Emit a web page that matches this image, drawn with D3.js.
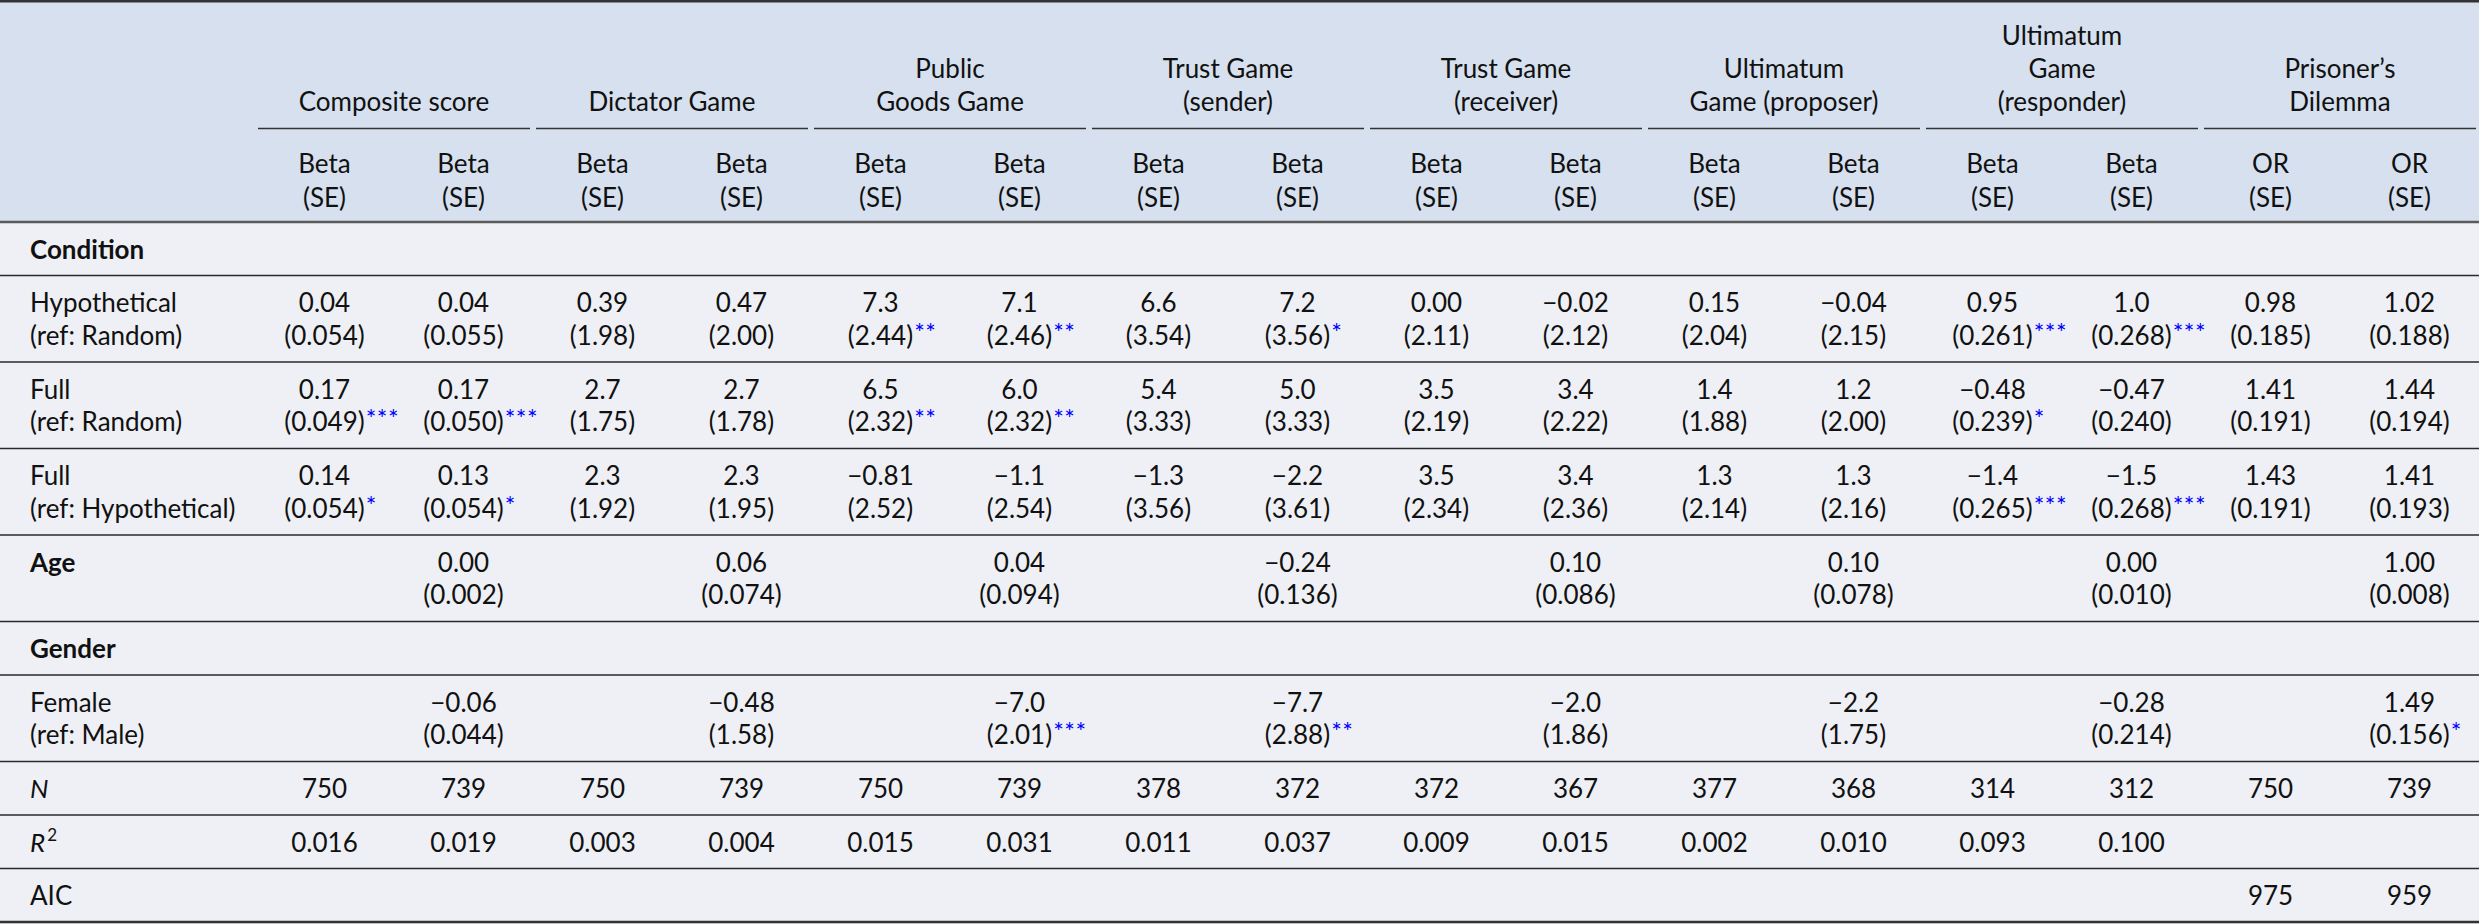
<!DOCTYPE html>
<html>
<head>
<meta charset="utf-8">
<script src="https://cdn.jsdelivr.net/npm/d3@7"></script>
<style>
  html, body { margin: 0; padding: 0; background: #eef0f5; }
  svg { display: block; font-family: Lato, "Noto Sans", sans-serif; }
</style>
</head>
<body>
<svg id="chart" width="2479" height="924"></svg>
<script>
// ---------------- DATA ----------------
const groups = [
  ["Composite score"],
  ["Dictator Game"],
  ["Public", "Goods Game"],
  ["Trust Game", "(sender)"],
  ["Trust Game", "(receiver)"],
  ["Ultimatum", "Game (proposer)"],
  ["Ultimatum", "Game", "(responder)"],
  ["Prisoner\u2019s", "Dilemma"]
];
const statLabels = ["Beta","Beta","Beta","Beta","Beta","Beta","Beta","Beta","Beta","Beta","Beta","Beta","Beta","Beta","OR","OR"];
const seLabel = "(SE)";

const hypCoef = ["0.04","0.04","0.39","0.47","7.3","7.1","6.6","7.2","0.00","\u22120.02","0.15","\u22120.04","0.95","1.0","0.98","1.02"];
const hypSE   = ["0.054","0.055","1.98","2.00","2.44","2.46","3.54","3.56","2.11","2.12","2.04","2.15","0.261","0.268","0.185","0.188"];
const hypSig  = ["","","","","**","**","","*","","","","","***","***","",""];

const fullCoef = ["0.17","0.17","2.7","2.7","6.5","6.0","5.4","5.0","3.5","3.4","1.4","1.2","\u22120.48","\u22120.47","1.41","1.44"];
const fullSE   = ["0.049","0.050","1.75","1.78","2.32","2.32","3.33","3.33","2.19","2.22","1.88","2.00","0.239","0.240","0.191","0.194"];
const fullSig  = ["***","***","","","**","**","","","","","","","*","","",""];

const fullHCoef = ["0.14","0.13","2.3","2.3","\u22120.81","\u22121.1","\u22121.3","\u22122.2","3.5","3.4","1.3","1.3","\u22121.4","\u22121.5","1.43","1.41"];
const fullHSE   = ["0.054","0.054","1.92","1.95","2.52","2.54","3.56","3.61","2.34","2.36","2.14","2.16","0.265","0.268","0.191","0.193"];
const fullHSig  = ["*","*","","","","","","","","","","","***","***","",""];

const ageCoef = ["","0.00","","0.06","","0.04","","\u22120.24","","0.10","","0.10","","0.00","","1.00"];
const ageSE   = ["","0.002","","0.074","","0.094","","0.136","","0.086","","0.078","","0.010","","0.008"];
const ageSig  = ["","","","","","","","","","","","","","","",""];

const femCoef = ["","\u22120.06","","\u22120.48","","\u22127.0","","\u22127.7","","\u22122.0","","\u22122.2","","\u22120.28","","1.49"];
const femSE   = ["","0.044","","1.58","","2.01","","2.88","","1.86","","1.75","","0.214","","0.156"];
const femSig  = ["","","","","","***","","**","","","","","","","","*"];

const nValues  = ["750","739","750","739","750","739","378","372","372","367","377","368","314","312","750","739"];
const r2Values = ["0.016","0.019","0.003","0.004","0.015","0.031","0.011","0.037","0.009","0.015","0.002","0.010","0.093","0.100","",""];
const aicValues = ["","","","","","","","","","","","","","","975","959"];

// ---------------- LAYOUT ----------------
const W = 2479, H = 924;
const labelW = 255;
const headerH = 222;
const singleH = 53.5, doubleH = 86.5;
const fs = 26;
const ink = "#111";
const starColor = "#0000ff";

const svg = d3.select("#chart");

const colIdx = d3.range(statLabels.length);
const x = d3.scaleBand().domain(colIdx).range([labelW, W]).paddingInner(0).paddingOuter(0);
const gx = d3.scaleBand().domain(d3.range(groups.length)).range([labelW, W]);

// backgrounds
svg.append("rect").attr("x", 0).attr("y", 0).attr("width", W).attr("height", H).attr("fill", "#eef0f5");
svg.append("rect").attr("x", 0).attr("y", 0).attr("width", W).attr("height", headerH).attr("fill", "#d6e0ee");

// group headers
const gHead = svg.append("g");
groups.forEach((lines, gi) => {
  const cx = gx(gi) + gx.bandwidth() / 2;
  const t = gHead.append("text").attr("text-anchor", "middle").attr("font-size", fs).attr("fill", ink);
  lines.forEach((ln, li) => {
    t.append("tspan").attr("x", cx).attr("y", 111 - 33 * (lines.length - 1 - li)).text(ln);
  });
  gHead.append("line")
    .attr("x1", gx(gi) + 3).attr("x2", gx(gi) + gx.bandwidth() - 3)
    .attr("y1", 128.5).attr("y2", 128.5)
    .attr("stroke", "#333").attr("stroke-width", 1.6);
});

// column headers
colIdx.forEach(i => {
  const cx = x(i) + x.bandwidth() / 2;
  const t = svg.append("text").attr("text-anchor", "middle").attr("font-size", fs).attr("fill", ink);
  t.append("tspan").attr("x", cx).attr("y", 173).text(statLabels[i]);
  t.append("tspan").attr("x", cx).attr("y", 206.5).text(seLabel);
});

// rows
const rows = [
  { label: ["Condition"], bold: true, h: singleH },
  { label: ["Hypothetical", "(ref: Random)"], h: doubleH, coef: hypCoef, se: hypSE, sig: hypSig },
  { label: ["Full", "(ref: Random)"], h: doubleH, coef: fullCoef, se: fullSE, sig: fullSig },
  { label: ["Full", "(ref: Hypothetical)"], h: doubleH, coef: fullHCoef, se: fullHSE, sig: fullHSig },
  { label: ["Age"], bold: true, h: doubleH, coef: ageCoef, se: ageSE, sig: ageSig },
  { label: ["Gender"], bold: true, h: singleH },
  { label: ["Female", "(ref: Male)"], h: doubleH, coef: femCoef, se: femSE, sig: femSig },
  { label: ["N"], italic: true, h: singleH, single: nValues },
  { label: ["R"], italic: true, sup: "2", h: singleH, single: r2Values },
  { label: ["AIC"], h: singleH, single: aicValues }
];

let y0 = headerH;
rows.forEach(r => { r.y = y0; y0 += r.h; });

const body = svg.append("g");
rows.forEach(r => {
  // label
  const t = body.append("text").attr("font-size", fs).attr("fill", ink)
    .attr("font-weight", r.bold ? 700 : 400)
    .attr("font-style", r.italic ? "italic" : "normal");
  r.label.forEach((ln, li) => {
    t.append("tspan").attr("x", 30).attr("y", r.y + 36.5 + 32.5 * li).text(ln);
  });
  if (r.sup) {
    t.append("tspan").attr("font-size", 17).attr("font-style", "normal").attr("dy", -11).attr("dx", 2).text(r.sup);
  }
  // values
  colIdx.forEach(i => {
    const cx = x(i) + x.bandwidth() / 2;
    if (r.single) {
      if (r.single[i]) {
        body.append("text").attr("text-anchor", "middle").attr("font-size", fs).attr("fill", ink)
          .attr("x", cx).attr("y", r.y + 36.5).text(r.single[i]);
      }
    } else if (r.coef && r.coef[i]) {
      body.append("text").attr("text-anchor", "middle").attr("font-size", fs).attr("fill", ink)
        .attr("x", cx).attr("y", r.y + 36.5).text(r.coef[i]);
      const se = body.append("text").attr("text-anchor", "middle").attr("font-size", fs).attr("fill", ink)
        .attr("x", cx).attr("y", r.y + 69).text("(" + r.se[i] + ")");
      if (r.sig[i]) {
        const w = se.node().getComputedTextLength();
        body.append("text").attr("font-size", 25).attr("fill", starColor)
          .attr("letter-spacing", 0.5)
          .attr("x", cx + w / 2 + 1).attr("y", r.y + 69 - 3).text(r.sig[i]);
      }
    }
  });
});

// horizontal rules
const lines = svg.append("g");
lines.append("line").attr("x1", 0).attr("x2", W).attr("y1", 1.3).attr("y2", 1.3)
  .attr("stroke", "#333").attr("stroke-width", 2.6);
lines.append("line").attr("x1", 0).attr("x2", W).attr("y1", headerH).attr("y2", headerH)
  .attr("stroke", "#5a5a5a").attr("stroke-width", 2.4);
rows.slice(1).forEach(r => {
  lines.append("line").attr("x1", 0).attr("x2", W).attr("y1", r.y).attr("y2", r.y)
    .attr("stroke", "#2a2a2a").attr("stroke-width", 1.5);
});
const lastRow = rows[rows.length - 1];
lines.append("line").attr("x1", 0).attr("x2", W).attr("y1", lastRow.y + lastRow.h).attr("y2", lastRow.y + lastRow.h)
  .attr("stroke", "#333").attr("stroke-width", 2.6);
</script>
</body>
</html>
